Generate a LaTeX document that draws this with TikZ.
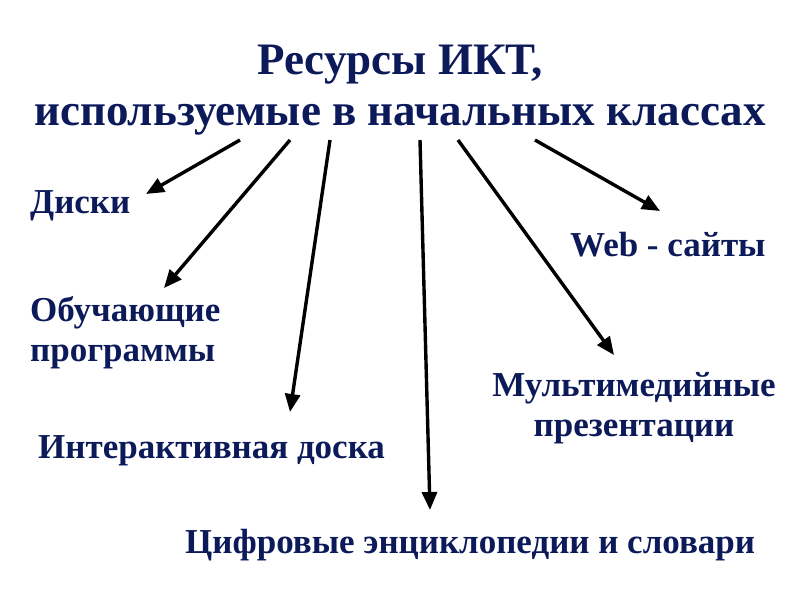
\documentclass[tikz,border=0pt]{standalone}
\usepackage{fontspec}
\setmainfont{Liberation Serif}
\usetikzlibrary{arrows.meta,positioning}
\definecolor{navy}{RGB}{12,26,90}

\begin{document}
\begin{tikzpicture}[x=1pt,y=-1pt,>={Triangle[length=18pt,width=15pt]},
  lbl/.style={text=navy,font=\bfseries\fontsize{35}{40}\selectfont,inner sep=0pt},
  arr/.style={->,line width=3.4pt}]
  \useasboundingbox (0,0) rectangle (800,600);
  \node[text=navy,font=\bfseries\fontsize{45}{51}\selectfont,align=center,inner sep=0pt]
    (title) at (400,90) {Ресурсы ИКТ,\\используемые в начальных классах};
  \node[lbl,anchor=base west] (disk) at (30,213) {Диски};
  \node[lbl,anchor=base west] (web) at (570,256) {Web - сайты};
  \node[lbl,anchor=north west,align=left] (prog) at (30,296) {Обучающие\\программы};
  \node[lbl,anchor=north,align=center] (multi) at (634,372) {Мультимедийные\\презентации};
  \node[lbl,anchor=base west] (board) at (38,458) {Интерактивная доска};
  \node[lbl,anchor=base west] (encyc) at (185,553) {Цифровые энциклопедии и словари};
  % starts under the title
  \coordinate (s1) at (240,140);
  \coordinate (s2) at (290,140);
  \coordinate (s3) at (330,140);
  \coordinate (s4) at (420,140);
  \coordinate (s5) at (458,140);
  \coordinate (s6) at (535,140);
  % tips
  \coordinate (t1) at (146,194);
  \coordinate (t2) at (164,288);
  \coordinate (t3) at (290,412);
  \coordinate (t4) at (430,510);
  \coordinate (t5) at (614,355);
  \coordinate (t6) at (660,211);
  \draw[arr] (s1) -- (t1);
  \draw[arr] (s2) -- (t2);
  \draw[arr] (s3) -- (t3);
  \draw[arr] (s4) -- (t4);
  \draw[arr] (s5) -- (t5);
  \draw[arr] (s6) -- (t6);
\end{tikzpicture}
\end{document}
